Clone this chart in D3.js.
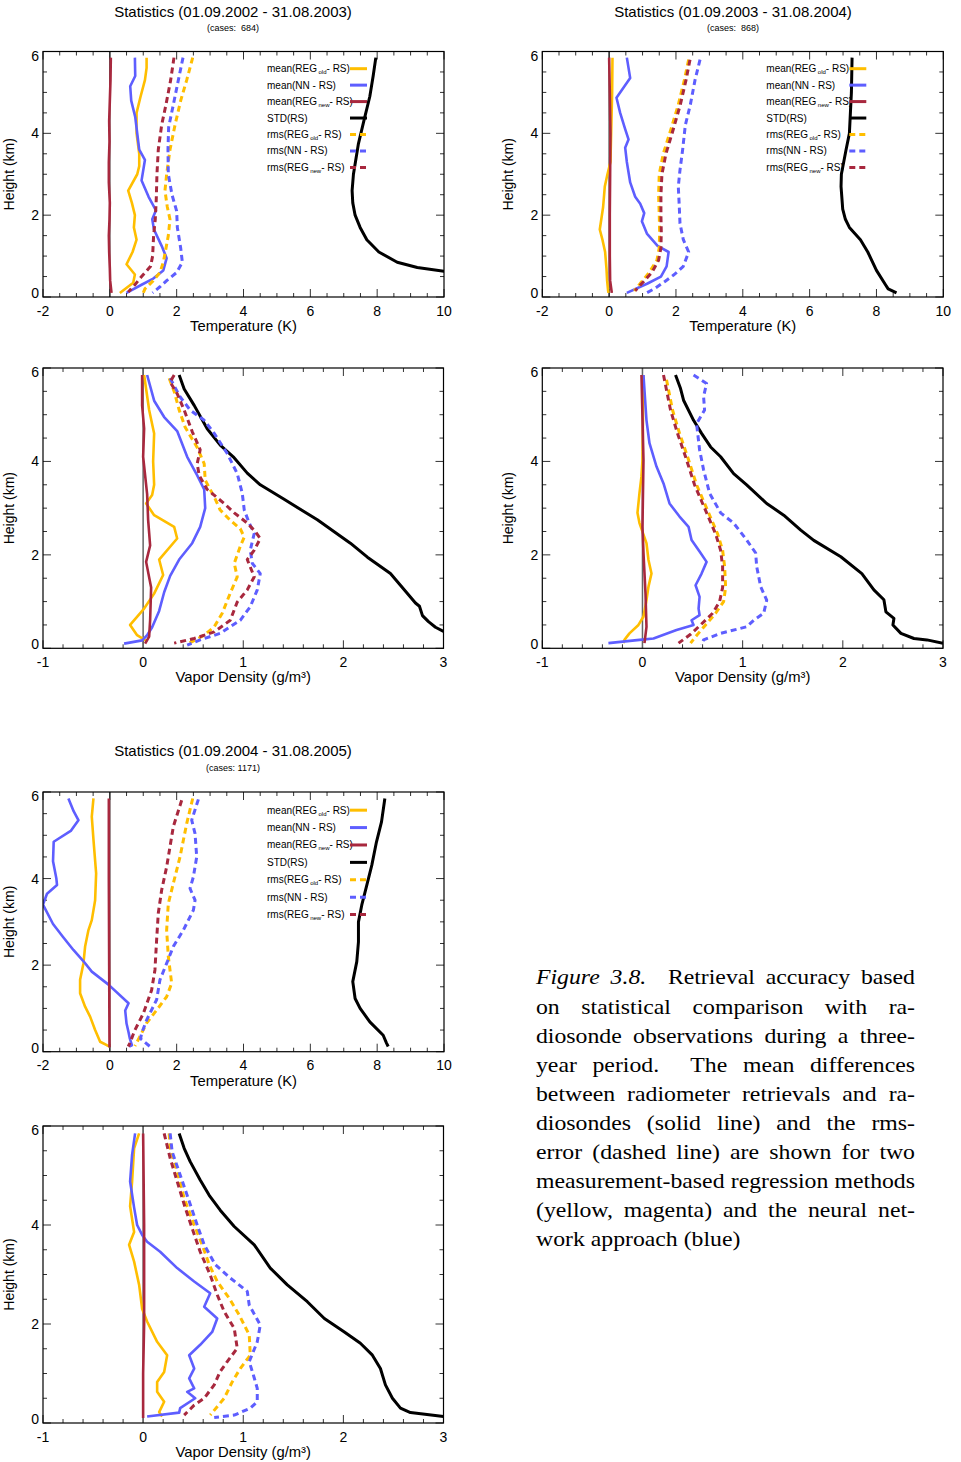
<!DOCTYPE html>
<html><head><meta charset="utf-8">
<script src="https://cdn.jsdelivr.net/npm/d3@7"></script>
<style>
body{margin:0;background:#fff}
svg{display:block}
text{font-family:"Liberation Sans",Arial,Helvetica,sans-serif;fill:#000}
.cap text{font-family:"Liberation Serif","Times New Roman",serif}
.pre{white-space:pre}
</style>
</head><body>
<svg id="c" width="961" height="1462"></svg>
<script>
// ---------------- DATA: [height km, value] ----------------
// Temperature 2002-2003
const T1_meanOld=[[5.85,1.10],[5.6,1.10],[5.3,1.05],[4.9,0.92],[4.5,0.80],[4.0,0.80],[3.5,0.88],[3.2,0.88],[3.0,0.82],[2.6,0.55],[2.3,0.66],[2.0,0.75],[1.7,0.72],[1.4,0.80],[1.1,0.68],[0.8,0.50],[0.55,0.75],[0.35,0.70],[0.1,0.30]];
const T1_meanNN=[[5.85,0.75],[5.4,0.76],[5.15,0.61],[4.8,0.64],[4.4,0.76],[4.0,0.82],[3.6,0.88],[3.35,1.05],[2.85,0.95],[2.45,1.16],[2.12,1.38],[1.9,1.27],[1.65,1.32],[1.25,1.55],[0.95,1.70],[0.65,1.60],[0.45,1.30],[0.3,0.95],[0.1,0.50]];
const T1_meanNew=[[5.85,0.03],[5.3,0.02],[4.8,0.0],[4.3,-0.02],[3.8,-0.01],[3.3,-0.03],[2.8,-0.03],[2.3,0.0],[1.9,-0.01],[1.5,-0.03],[1.1,-0.02],[0.7,0.0],[0.4,0.01],[0.1,0.05]];
const T1_std=[[5.85,7.96],[5.4,7.88],[4.9,7.78],[4.3,7.6],[3.75,7.44],[3.0,7.29],[2.6,7.25],[2.3,7.27],[2.0,7.34],[1.7,7.49],[1.4,7.69],[1.1,8.05],[0.85,8.6],[0.72,9.2],[0.63,10.0],[0.6,10.3]];
const T1_rmsOld=[[5.85,2.48],[5.3,2.3],[4.8,2.12],[4.2,1.95],[3.6,1.8],[3.0,1.7],[2.6,1.65],[2.2,1.72],[1.9,1.8],[1.5,1.75],[1.1,1.66],[0.85,1.6],[0.6,1.5],[0.4,1.3],[0.2,1.05],[0.1,1.0]];
const T1_rmsNN=[[5.85,2.19],[5.3,2.05],[4.7,1.9],[4.15,1.76],[3.6,1.74],[3.0,1.75],[2.5,1.86],[2.1,2.0],[1.7,2.02],[1.2,2.12],[0.85,2.17],[0.6,2.0],[0.4,1.7],[0.25,1.5],[0.1,1.28]];
const T1_rmsNew=[[5.85,1.92],[5.3,1.82],[4.7,1.68],[4.2,1.55],[3.6,1.45],[3.0,1.41],[2.4,1.39],[1.9,1.36],[1.5,1.31],[1.0,1.28],[0.75,1.22],[0.5,0.95],[0.3,0.75],[0.12,0.55]];

// Temperature 2003-2004
const T2_meanOld=[[5.85,0.10],[5.0,0.09],[4.0,0.06],[3.3,0.04],[3.0,-0.05],[2.7,-0.13],[2.2,-0.18],[1.65,-0.28],[1.4,-0.2],[1.1,-0.12],[0.7,-0.08],[0.4,-0.06],[0.15,-0.03],[0.1,-0.02]];
const T2_meanNN=[[5.85,0.53],[5.35,0.63],[4.87,0.22],[4.5,0.33],[4.1,0.48],[3.85,0.58],[3.65,0.48],[3.3,0.53],[2.8,0.63],[2.45,0.78],[2.28,0.93],[2.05,1.05],[1.85,0.98],[1.55,1.13],[1.25,1.45],[1.1,1.78],[0.75,1.72],[0.5,1.55],[0.33,1.15],[0.1,0.53]];
const T2_meanNew=[[5.85,0.0],[5.0,0.02],[4.0,0.04],[3.0,0.03],[2.0,0.02],[1.0,0.02],[0.4,0.03],[0.1,0.08]];
const T2_std=[[5.85,7.27],[5.0,7.25],[4.0,7.19],[3.6,7.09],[3.0,6.95],[2.7,6.94],[2.15,6.99],[1.9,7.07],[1.7,7.19],[1.4,7.52],[1.1,7.74],[0.65,8.0],[0.3,8.27],[0.2,8.35],[0.1,8.6]];
const T2_rmsOld=[[5.8,2.38],[5.3,2.25],[4.7,2.07],[4.1,1.85],[3.5,1.62],[3.0,1.5],[2.5,1.48],[2.0,1.5],[1.6,1.51],[1.2,1.5],[0.9,1.43],[0.6,1.2],[0.35,0.95],[0.15,0.75]];
const T2_rmsNN=[[5.8,2.72],[5.3,2.57],[4.7,2.43],[4.2,2.28],[3.6,2.2],[3.1,2.12],[2.7,2.07],[2.2,2.1],[1.8,2.12],[1.4,2.22],[1.1,2.38],[0.75,2.22],[0.55,1.95],[0.38,1.67],[0.2,1.35],[0.08,1.07]];
const T2_rmsNew=[[5.8,2.42],[5.3,2.3],[4.7,2.13],[4.1,1.92],[3.5,1.7],[3.0,1.58],[2.5,1.55],[2.0,1.55],[1.6,1.56],[1.2,1.55],[0.9,1.48],[0.6,1.28],[0.35,1.0],[0.15,0.78]];

// Temperature 2004-2005
const T3_meanOld=[[5.85,-0.49],[5.43,-0.54],[4.9,-0.49],[4.12,-0.41],[3.5,-0.44],[3.04,-0.54],[2.81,-0.64],[2.43,-0.74],[2.04,-0.79],[1.66,-0.89],[1.35,-0.89],[1.04,-0.74],[0.81,-0.59],[0.5,-0.44],[0.23,-0.29],[0.15,-0.09],[0.12,0.0]];
const T3_meanNN=[[5.85,-1.24],[5.55,-1.08],[5.35,-0.94],[5.1,-1.17],[4.85,-1.68],[4.4,-1.7],[4.0,-1.6],[3.85,-1.58],[3.65,-1.88],[3.4,-2.0],[2.95,-1.7],[2.65,-1.4],[2.35,-1.09],[2.1,-0.8],[1.85,-0.54],[1.55,-0.04],[1.12,0.56],[0.95,0.46],[0.65,0.5],[0.45,0.56],[0.3,0.6],[0.15,0.66],[0.12,0.58]];
const T3_meanNew=[[5.85,-0.03],[4.0,-0.03],[2.0,-0.02],[0.1,-0.01]];
const T3_std=[[5.85,8.23],[5.31,8.13],[4.85,7.98],[4.31,7.84],[3.85,7.69],[3.39,7.54],[3.0,7.44],[2.54,7.44],[2.08,7.39],[1.62,7.27],[1.23,7.34],[1.0,7.49],[0.69,7.78],[0.38,8.18],[0.2,8.28],[0.12,8.33]];
const T3_rmsOld=[[5.85,2.48],[5.27,2.3],[4.5,2.1],[3.89,1.9],[3.42,1.75],[2.81,1.7],[2.2,1.75],[1.58,1.85],[1.27,1.7],[0.96,1.4],[0.66,1.1],[0.35,0.9],[0.13,0.75]];
const T3_rmsNN=[[5.83,2.65],[5.35,2.45],[5.04,2.55],[4.5,2.6],[4.04,2.5],[3.77,2.4],[3.5,2.55],[3.27,2.5],[2.81,2.2],[2.43,1.9],[2.04,1.7],[1.66,1.5],[1.2,1.4],[0.73,1.1],[0.42,0.95],[0.3,0.92],[0.12,1.2]];
const T3_rmsNew=[[5.81,2.15],[5.2,1.9],[4.27,1.7],[3.73,1.55],[3.2,1.45],[2.58,1.4],[1.89,1.35],[1.42,1.25],[0.88,1.0],[0.5,0.75],[0.2,0.6],[0.12,0.55]];

// Vapor density 2002-2003
const V1_meanOld=[[5.85,0.01],[5.1,0.06],[4.6,0.11],[4.0,0.10],[3.5,0.11],[3.28,0.09],[3.1,0.03],[2.85,0.11],[2.6,0.31],[2.35,0.34],[1.9,0.16],[1.57,0.20],[1.17,0.11],[0.85,0.01],[0.5,-0.13],[0.28,-0.06],[0.15,0.04]];
const V1_meanNN=[[5.85,0.04],[5.3,0.11],[4.95,0.21],[4.65,0.34],[4.1,0.44],[3.7,0.54],[3.4,0.61],[3.0,0.62],[2.6,0.57],[2.25,0.49],[1.9,0.36],[1.55,0.27],[1.2,0.21],[0.8,0.16],[0.45,0.09],[0.28,0.04],[0.17,-0.01],[0.1,-0.19]];
const V1_meanNew=[[5.85,-0.01],[5.2,-0.01],[4.7,0.01],[4.1,0.0],[3.3,0.04],[2.75,0.05],[2.2,0.07],[1.85,0.03],[1.3,0.08],[0.6,0.07],[0.25,0.06],[0.1,0.02]];
const V1_std=[[5.85,0.36],[5.55,0.41],[5.2,0.51],[4.7,0.64],[4.35,0.77],[4.1,0.9],[3.75,1.04],[3.5,1.17],[3.2,1.4],[2.75,1.74],[2.25,2.07],[1.95,2.24],[1.6,2.47],[1.25,2.61],[0.97,2.72],[0.9,2.76],[0.7,2.79],[0.57,2.85],[0.45,2.92],[0.36,3.0]];
const V1_rmsOld=[[5.78,0.26],[5.5,0.31],[5.1,0.36],[4.73,0.42],[4.3,0.54],[3.95,0.61],[3.6,0.62],[3.24,0.71],[2.96,0.77],[2.74,0.87],[2.56,0.97],[2.38,1.01],[2.18,0.97],[1.82,0.91],[1.53,0.94],[1.18,0.87],[0.75,0.79],[0.46,0.71],[0.28,0.61],[0.11,0.46]];
const V1_rmsNN=[[5.78,0.27],[5.38,0.37],[5.1,0.47],[4.88,0.61],[4.6,0.71],[4.17,0.84],[3.74,0.94],[3.32,0.99],[2.96,1.01],[2.68,1.06],[2.46,1.11],[2.1,1.07],[1.82,1.09],[1.6,1.17],[1.25,1.14],[0.89,1.07],[0.6,0.97],[0.32,0.77],[0.18,0.57],[0.07,0.44]];
const V1_rmsNew=[[5.85,0.31],[5.7,0.27],[5.45,0.34],[5.1,0.41],[4.64,0.49],[4.25,0.57],[3.95,0.54],[3.7,0.56],[3.4,0.64],[3.1,0.81],[2.9,0.91],[2.68,1.04],[2.5,1.12],[2.35,1.17],[2.1,1.11],[1.9,1.04],[1.53,1.11],[1.25,1.04],[0.99,0.94],[0.6,0.87],[0.35,0.71],[0.21,0.51],[0.11,0.31]];

// Vapor density 2003-2004
const V2_meanOld=[[5.85,0.01],[4.03,0.0],[3.68,-0.01],[3.32,-0.03],[2.9,-0.05],[2.68,-0.03],[2.25,0.04],[1.89,0.06],[1.6,0.09],[1.32,0.06],[1.03,0.04],[0.68,0.01],[0.5,-0.04],[0.32,-0.13],[0.18,-0.18],[0.11,-0.19]];
const V2_meanNN=[[5.85,0.01],[4.88,0.04],[4.39,0.07],[3.89,0.14],[3.53,0.21],[3.1,0.27],[2.82,0.37],[2.6,0.46],[2.32,0.49],[2.07,0.57],[1.85,0.64],[1.6,0.59],[1.35,0.53],[1.1,0.57],[0.85,0.56],[0.71,0.57],[0.6,0.49],[0.5,0.51],[0.39,0.34],[0.21,0.11],[0.18,-0.03],[0.11,-0.34]];
const V2_meanNew=[[5.85,-0.01],[4.03,0.01],[2.6,0.0],[2.04,0.01],[1.18,0.03],[0.46,0.04],[0.11,0.02]];
const V2_std=[[5.85,0.33],[5.56,0.38],[5.31,0.41],[4.88,0.51],[4.6,0.59],[4.31,0.68],[4.1,0.78],[3.74,0.91],[3.5,1.04],[3.1,1.24],[2.85,1.41],[2.53,1.58],[2.31,1.71],[1.96,1.98],[1.6,2.19],[1.25,2.31],[1.04,2.41],[0.78,2.43],[0.64,2.51],[0.5,2.5],[0.32,2.58],[0.21,2.71],[0.18,2.84],[0.11,3.0]];
const V2_rmsOld=[[5.75,0.24],[5.1,0.3],[4.6,0.37],[4.1,0.45],[3.5,0.54],[3.1,0.62],[2.8,0.68],[2.45,0.75],[2.1,0.8],[1.75,0.82],[1.3,0.83],[1.0,0.81],[0.75,0.73],[0.5,0.63],[0.25,0.53],[0.11,0.48]];
const V2_rmsNN=[[5.85,0.51],[5.67,0.64],[5.39,0.61],[5.1,0.62],[4.81,0.54],[4.25,0.57],[3.82,0.61],[3.32,0.67],[2.9,0.78],[2.68,0.91],[2.32,1.04],[2.04,1.13],[1.75,1.14],[1.32,1.18],[1.03,1.24],[0.75,1.21],[0.6,1.11],[0.46,1.04],[0.32,0.78],[0.18,0.61],[0.07,0.59]];
const V2_rmsNew=[[5.85,0.21],[5.1,0.28],[4.6,0.35],[4.1,0.43],[3.5,0.52],[3.1,0.6],[2.8,0.66],[2.45,0.73],[2.1,0.78],[1.75,0.8],[1.3,0.8],[1.0,0.77],[0.75,0.7],[0.5,0.58],[0.3,0.48],[0.11,0.36]];

// Vapor density 2004-2005
const V3_meanOld=[[5.85,-0.04],[5.55,-0.09],[4.88,-0.11],[4.38,-0.13],[3.86,-0.09],[3.6,-0.14],[3.26,-0.09],[2.79,-0.04],[2.31,-0.01],[2.05,0.04],[1.64,0.14],[1.37,0.24],[1.03,0.21],[0.83,0.14],[0.63,0.14],[0.43,0.21],[0.22,0.16],[0.13,0.19]];
const V3_meanNN=[[5.85,-0.08],[5.42,-0.11],[4.88,-0.13],[4.35,-0.09],[4.0,-0.06],[3.8,-0.01],[3.66,0.04],[3.46,0.17],[3.13,0.34],[2.86,0.51],[2.62,0.67],[2.35,0.61],[2.11,0.74],[1.84,0.69],[1.58,0.57],[1.37,0.46],[1.1,0.51],[0.9,0.46],[0.7,0.51],[0.63,0.44],[0.5,0.52],[0.3,0.37],[0.21,0.36],[0.13,0.04]];
const V3_meanNew=[[5.85,0.0],[4.0,0.01],[3.0,0.01],[2.0,0.01],[1.0,0.0],[0.1,0.0]];
const V3_std=[[5.85,0.36],[5.55,0.41],[5.28,0.47],[4.91,0.57],[4.6,0.66],[4.3,0.77],[3.97,0.91],[3.6,1.11],[3.13,1.27],[2.79,1.44],[2.45,1.64],[2.11,1.81],[1.84,2.01],[1.61,2.17],[1.37,2.29],[1.1,2.37],[0.77,2.42],[0.5,2.49],[0.3,2.57],[0.21,2.67],[0.13,3.0]];
const V3_rmsOld=[[5.85,0.26],[5.55,0.27],[5.08,0.34],[4.54,0.41],[4.0,0.51],[3.6,0.59],[3.2,0.66],[2.86,0.74],[2.52,0.86],[2.18,0.96],[1.78,1.06],[1.37,1.07],[1.1,0.97],[0.83,0.89],[0.5,0.81],[0.16,0.67]];
const V3_rmsNN=[[5.85,0.27],[5.48,0.29],[5.01,0.37],[4.48,0.46],[4.0,0.54],[3.6,0.61],[3.2,0.72],[2.93,0.87],[2.66,1.04],[2.38,1.06],[1.98,1.17],[1.64,1.14],[1.24,1.06],[0.91,1.11],[0.7,1.14],[0.43,1.14],[0.3,1.07],[0.16,0.91],[0.11,0.71]];
const V3_rmsNew=[[5.85,0.21],[5.35,0.27],[4.88,0.34],[4.35,0.42],[3.93,0.49],[3.46,0.57],[2.99,0.67],[2.59,0.74],[2.25,0.81],[1.91,0.91],[1.51,0.94],[1.24,0.84],[1.04,0.77],[0.77,0.71],[0.5,0.61],[0.36,0.51],[0.16,0.41]];

// Tick labels
const tempTicks=[-2,0,2,4,6,8,10];
const vapTicks=[-1,0,1,2,3];
const heightTicks=[0,2,4,6];
const legendLabels=[["mean(REG","old","- RS)"],["mean(NN - RS)"],["mean(REG","new","- RS)"],["STD(RS)"],["rms(REG","old","- RS)"],["rms(NN - RS)"],["rms(REG","new","- RS)"]];
const titles=["Statistics (01.09.2002 - 31.08.2003)","Statistics (01.09.2003 - 31.08.2004)","Statistics (01.09.2004 - 31.08.2005)"];
const cases=["(cases:  684)","(cases:  868)","(cases: 1171)"];
const captionLines=[
 ["Figure","3.8.","Retrieval","accuracy","based"],
 ["on","statistical","comparison","with","ra-"],
 ["diosonde","observations","during","a","three-"],
 ["year","period.","The","mean","differences"],
 ["between","radiometer","retrievals","and","ra-"],
 ["diosondes","(solid","line)","and","the","rms-"],
 ["error","(dashed","line)","are","shown","for","two"],
 ["measurement-based","regression","methods"],
 ["(yellow,","magenta)","and","the","neural","net-"],
 ["work","approach","(blue)"]];

// ---------------- STYLE / LAYOUT ----------------
const YEL="#ffbe00", BLU="#5e5eff", RED="#a8283e", BLK="#000";
const seriesStyle=[
 {c:YEL,dash:null,w:2.6},{c:BLU,dash:null,w:2.6},{c:RED,dash:null,w:2.6},{c:BLK,dash:null,w:3},
 {c:YEL,dash:"6,4",w:3},{c:BLU,dash:"6,4",w:3},{c:RED,dash:"6,4",w:3}];

const panels=[
 {kind:"T",L:43,R:444,T:51.5,B:297,data:[T1_meanOld,T1_meanNN,T1_meanNew,T1_std,T1_rmsOld,T1_rmsNN,T1_rmsNew],legend:true,title:0,tx:233,ty:17,cy:31},
 {kind:"T",L:542.3,R:943.3,T:51.5,B:297,data:[T2_meanOld,T2_meanNN,T2_meanNew,T2_std,T2_rmsOld,T2_rmsNN,T2_rmsNew],legend:true,title:1,tx:733,ty:17,cy:31},
 {kind:"V",L:43,R:443.5,T:368,B:648.3,data:[V1_meanOld,V1_meanNN,V1_meanNew,V1_std,V1_rmsOld,V1_rmsNN,V1_rmsNew]},
 {kind:"V",L:542.3,R:943,T:368,B:648.3,data:[V2_meanOld,V2_meanNN,V2_meanNew,V2_std,V2_rmsOld,V2_rmsNN,V2_rmsNew]},
 {kind:"T",L:43,R:444,T:792,B:1051.7,data:[T3_meanOld,T3_meanNN,T3_meanNew,T3_std,T3_rmsOld,T3_rmsNN,T3_rmsNew],legend:true,title:2,tx:233,ty:755.5,cy:770.5},
 {kind:"V",L:43,R:443.5,T:1126,B:1423,data:[V3_meanOld,V3_meanNN,V3_meanNew,V3_std,V3_rmsOld,V3_rmsNN,V3_rmsNew]}
];

const svg=d3.select("#c");
const drawOrder=[0,1,2,3,4,5,6];

panels.forEach((p,pi)=>{
  const isT=p.kind==="T";
  const x=d3.scaleLinear().domain(isT?[-2,10]:[-1,3]).range([p.L,p.R]);
  const y=d3.scaleLinear().domain([0,6]).range([p.B,p.T]);
  const g=svg.append("g");
  const cid="clip"+pi;
  svg.append("clipPath").attr("id",cid).append("rect").attr("x",p.L).attr("y",p.T).attr("width",p.R-p.L).attr("height",p.B-p.T);

  const xMinor=isT?d3.range(-2,10.001,0.5):d3.range(-1,3.001,0.2);
  const xMajor=isT?tempTicks:vapTicks;
  const yMinor=d3.range(0,6.001,0.5);
  const tk=g.append("g").attr("stroke","#333").attr("stroke-width",1);
  xMinor.forEach(v=>{
    const major=xMajor.some(m=>Math.abs(m-v)<1e-6);
    const len=major?8:4;
    tk.append("line").attr("x1",x(v)).attr("x2",x(v)).attr("y1",p.B).attr("y2",p.B-len);
    tk.append("line").attr("x1",x(v)).attr("x2",x(v)).attr("y1",p.T).attr("y2",p.T+len);
  });
  yMinor.forEach(v=>{
    const major=heightTicks.some(m=>Math.abs(m-v)<1e-6);
    const len=major?8:4;
    tk.append("line").attr("y1",y(v)).attr("y2",y(v)).attr("x1",p.L).attr("x2",p.L+len);
    tk.append("line").attr("y1",y(v)).attr("y2",y(v)).attr("x1",p.R).attr("x2",p.R-len);
  });

  // zero line
  g.append("line").attr("x1",x(0)).attr("x2",x(0)).attr("y1",p.B).attr("y2",p.T)
    .attr("stroke",isT?"#222":"#666").attr("stroke-width",isT?1.2:1.5);

  const line=d3.line().x(d=>x(d[1])).y(d=>y(d[0]));
  const sg=g.append("g").attr("clip-path",`url(#${cid})`);
  drawOrder.forEach(i=>{
    const s=seriesStyle[i];
    sg.append("path").datum(p.data[i]).attr("d",line).attr("fill","none")
      .attr("stroke",s.c).attr("stroke-width",s.w).attr("stroke-dasharray",s.dash)
      .attr("stroke-linejoin","round");
  });

  g.append("rect").attr("x",p.L).attr("y",p.T).attr("width",p.R-p.L).attr("height",p.B-p.T)
    .attr("fill","none").attr("stroke","#000").attr("stroke-width",1.2);

  xMajor.forEach(v=>{
    g.append("text").attr("x",x(v)).attr("y",p.B+18.7).attr("text-anchor","middle")
      .attr("font-size",14).text(v);
  });
  heightTicks.forEach(v=>{
    let yy=y(v)+5;
    if(v===6) yy+=4; if(v===0) yy-=4;
    g.append("text").attr("x",p.L-4).attr("y",yy).attr("text-anchor","end").attr("font-size",14).text(v);
  });
  const xt=g.append("text").attr("x",(p.L+p.R)/2).attr("y",p.B+34).attr("text-anchor","middle").attr("font-size",14.8);
  if(isT) xt.text("Temperature (K)"); else xt.text("Vapor Density (g/m³)");
  g.append("text").attr("transform",`translate(${p.L-29},${(p.T+p.B)/2}) rotate(-90)`)
    .attr("text-anchor","middle").attr("font-size",14).text("Height (km)");

  if(p.title!==undefined){
    svg.append("text").attr("x",p.tx).attr("y",p.ty).attr("text-anchor","middle").attr("font-size",15).text(titles[p.title]);
    svg.append("text").attr("class","pre").attr("x",p.tx).attr("y",p.cy).attr("text-anchor","middle").attr("font-size",9).text(cases[p.title]);
  }

  if(p.legend){
    const h=p.B-p.T;
    legendLabels.forEach((lab,i)=>{
      const cy=p.T+0.07*h+i*0.067*h;
      const t=g.append("text").attr("x",p.L+224).attr("y",cy+3.5).attr("font-size",10);
      t.append("tspan").text(lab[0]);
      if(lab.length>1){
        t.append("tspan").attr("dx",1.5).attr("dy",2).attr("font-size",6).text(lab[1]);
        t.append("tspan").attr("dy",-2).text(lab[2]);
      }
      const s=seriesStyle[i];
      g.append("line").attr("x1",p.L+307).attr("x2",p.L+324).attr("y1",cy).attr("y2",cy)
        .attr("stroke",s.c).attr("stroke-width",3).attr("stroke-dasharray",s.dash);
    });
  }
});

// caption (justified, slightly widened glyphs)
const X0=536, X1=915, Y0=984.5, LH=29.1, FS=22, SX=1.08;
const cap=svg.append("g").attr("class","cap")
  .attr("transform",`translate(${X0},0) scale(${SX},1)`);
const W=(X1-X0)/SX;
captionLines.forEach((words,li)=>{
  const yy=Y0+li*LH;
  const nodes=words.map((w,i)=>cap.append("text").attr("y",yy).attr("font-size",FS)
     .attr("font-style",(li===0&&i<2)?"italic":null).text(w));
  const widths=nodes.map(n=>n.node().getComputedTextLength());
  const weights=words.slice(0,-1).map(w=>/\.$/.test(w)?2:1);
  const last=li===captionLines.length-1;
  const totalW=d3.sum(widths), totalWeight=d3.sum(weights);
  const unit=last?FS*0.25:(W-totalW)/totalWeight;
  let xx=0;
  nodes.forEach((n,i)=>{n.attr("x",xx); xx+=widths[i]+(i<weights.length?unit*weights[i]:0);});
});
</script>
</body></html>
